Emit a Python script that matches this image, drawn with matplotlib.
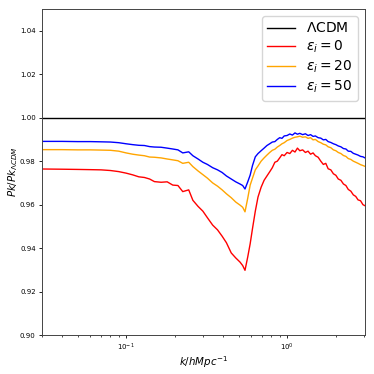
import matplotlib
matplotlib.use("Agg")
import matplotlib.pyplot as plt

k = [0.030, 0.040, 0.050, 0.060, 0.070, 0.080, 0.090, 0.100, 0.110, 0.120,
     0.130, 0.140, 0.150, 0.165, 0.180, 0.195, 0.210, 0.225, 0.245, 0.260,
     0.280, 0.300, 0.320, 0.345, 0.370, 0.395, 0.420, 0.450, 0.480, 0.510,
     0.530, 0.548, 0.570, 0.590, 0.610, 0.635, 0.660, 0.690, 0.720, 0.750,
     0.780, 0.810, 0.840, 0.870, 0.900, 0.930, 0.960, 1.00, 1.04, 1.08,
     1.12, 1.16, 1.20, 1.25, 1.30, 1.35, 1.40, 1.45, 1.50, 1.56,
     1.62, 1.68, 1.74, 1.80, 1.87, 1.94, 2.01, 2.08, 2.16, 2.24,
     2.32, 2.40, 2.49, 2.58, 2.67, 2.76, 2.86, 2.96, 3.05]

eps0 = [0.9764, 0.9763, 0.9762, 0.9761, 0.9760, 0.9757, 0.9752, 0.9745, 0.9737, 0.9728,
        0.9725, 0.9718, 0.9706, 0.9703, 0.9705, 0.9690, 0.9688, 0.9660, 0.9668, 0.9620,
        0.9592, 0.9570, 0.9540, 0.9506, 0.9484, 0.9455, 0.9425, 0.9378, 0.9355, 0.9336,
        0.9320, 0.9298, 0.9360, 0.9420, 0.9490, 0.9570, 0.9635, 0.9680, 0.9712, 0.9732,
        0.9751, 0.9770, 0.9795, 0.9800, 0.9815, 0.9830, 0.9825, 0.9840, 0.9835, 0.9850,
        0.9842, 0.9860, 0.9848, 0.9852, 0.9840, 0.9846, 0.9832, 0.9838, 0.9825, 0.9818,
        0.9800, 0.9785, 0.9790, 0.9765, 0.9760, 0.9742, 0.9735, 0.9718, 0.9712, 0.9695,
        0.9688, 0.9670, 0.9662, 0.9645, 0.9638, 0.9622, 0.9618, 0.9600, 0.9595]

eps20 = [0.9853, 0.9853, 0.9852, 0.9852, 0.9851, 0.9850, 0.9846, 0.9838, 0.9832, 0.9828,
         0.9825, 0.9819, 0.9818, 0.9815, 0.9810, 0.9806, 0.9802, 0.9790, 0.9795, 0.9775,
         0.9755, 0.9738, 0.9722, 0.9700, 0.9685, 0.9668, 0.9650, 0.9632, 0.9612, 0.9598,
         0.9588, 0.9567, 0.9630, 0.9690, 0.9722, 0.9760, 0.9778, 0.9800, 0.9815, 0.9828,
         0.9840, 0.9850, 0.9855, 0.9865, 0.9872, 0.9880, 0.9885, 0.9895, 0.9900, 0.9906,
         0.9910, 0.9912, 0.9915, 0.9910, 0.9912, 0.9905, 0.9908, 0.9898, 0.9900, 0.9890,
         0.9885, 0.9878, 0.9875, 0.9866, 0.9862, 0.9852, 0.9848, 0.9840, 0.9835, 0.9826,
         0.9822, 0.9812, 0.9808, 0.9800, 0.9795, 0.9790, 0.9784, 0.9780, 0.9776]

eps50 = [0.9891, 0.9891, 0.9890, 0.9890, 0.9889, 0.9888, 0.9885, 0.9880, 0.9876, 0.9873,
         0.9872, 0.9867, 0.9865, 0.9864, 0.9860, 0.9856, 0.9852, 0.9838, 0.9843, 0.9825,
         0.9810, 0.9795, 0.9785, 0.9770, 0.9760, 0.9748, 0.9732, 0.9718, 0.9705, 0.9695,
         0.9688, 0.9672, 0.9705, 0.9736, 0.9780, 0.9820, 0.9835, 0.9848, 0.9860, 0.9872,
         0.9880, 0.9888, 0.9890, 0.9900, 0.9908, 0.9905, 0.9916, 0.9918, 0.9925, 0.9920,
         0.9930, 0.9924, 0.9928, 0.9922, 0.9926, 0.9918, 0.9922, 0.9914, 0.9916, 0.9908,
         0.9906, 0.9898, 0.9900, 0.9890, 0.9886, 0.9880, 0.9876, 0.9870, 0.9866, 0.9858,
         0.9856, 0.9846, 0.9845, 0.9836, 0.9832, 0.9828, 0.9822, 0.9820, 0.9815]

labels = [r'$\Lambda$CDM', r'$\epsilon_i = 0$', r'$\epsilon_i = 20$', r'$\epsilon_i = 50$']
colors = ['black', 'red', 'orange', 'blue']

fig = plt.figure(figsize=(3.74, 3.74), dpi=100)
ax = fig.add_axes([0.112, 0.104, 0.864, 0.872])
ax.axhline(1.0, color=colors[0], lw=1.0, label=labels[0])
ax.plot(k, eps0, color=colors[1], lw=1.0, label=labels[1])
ax.plot(k, eps20, color=colors[2], lw=1.0, label=labels[2])
ax.plot(k, eps50, color=colors[3], lw=1.0, label=labels[3])
ax.set_xscale('log')
ax.set_xlim(0.030, 3.05)
ax.set_ylim(0.90, 1.05)
ax.set_yticks([0.90, 0.92, 0.94, 0.96, 0.98, 1.00, 1.02, 1.04])
ax.tick_params(axis='both', which='major', labelsize=5, length=2.5, width=0.6, pad=2)
ax.tick_params(axis='both', which='minor', length=1.5, width=0.5)
ax.set_xlabel(r'$k/hMpc^{-1}$', fontsize=7.4, labelpad=1)
ax.set_ylabel(r'$Pk/Pk_{\Lambda CDM}$', fontsize=7.3, labelpad=0)
for s in ax.spines.values():
    s.set_linewidth(0.7)
    s.set_color('#444444')
ax.legend(loc='upper right', fontsize=10, handlelength=2.0, borderaxespad=0.5,
          labelspacing=0.25)
fig.savefig('out.png', dpi=100)
